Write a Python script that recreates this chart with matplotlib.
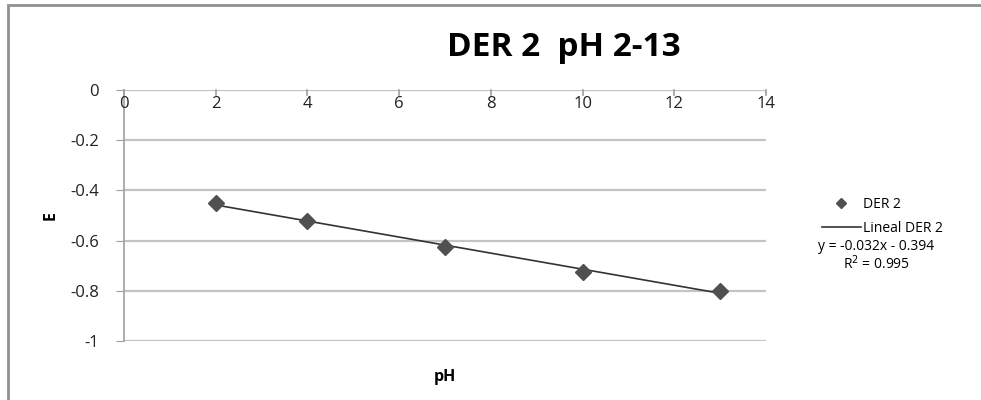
import matplotlib.pyplot as plt
from matplotlib.patches import Rectangle
import numpy as np

plt.rcParams['font.family'] = ['Open Sans', 'DejaVu Sans']

# measurements
ph = [2, 4, 7, 10, 13]
e_values = [-0.45, -0.522, -0.625, -0.725, -0.80]

# fitted trendline (as reported)
slope = -0.032
intercept = -0.394
r2 = 0.995

x_ticks = [0, 2, 4, 6, 8, 10, 12, 14]
y_ticks = [0, -0.2, -0.4, -0.6, -0.8, -1]

fig = plt.figure(figsize=(9.81, 4), dpi=100)
ax = fig.add_axes([0.1264, 0.1475, 0.6546, 0.6275])

grid_col = '#c4c4c4'
for y in y_ticks:
    ax.axhline(y, color=grid_col, lw=1.6, zorder=1)

xfit = np.array([ph[0], ph[-1]])
ax.plot(xfit, slope * xfit + intercept, color='#333333', lw=1.2, zorder=2,
        label='Lineal DER 2')
ax.plot(ph, e_values, linestyle='none', marker='D', ms=8, color='#505050',
        zorder=3, label='DER 2')

ax.set_xlim(0, 14)
ax.set_ylim(-1, 0)
ax.set_yticks(y_ticks)
ax.set_yticklabels(['0', '-0.2', '-0.4', '-0.6', '-0.8', '-1'])
ax.set_xticks([])

for s in ['top', 'right', 'bottom']:
    ax.spines[s].set_visible(False)
ax.spines['left'].set_color('#a0a0a0')
ax.spines['left'].set_linewidth(1.2)

ax.tick_params(axis='y', direction='out', length=6, color='#a0a0a0',
               labelsize=12, pad=12, labelcolor='#222222')

# x axis sits on the zero line: tick marks hang below it, labels underneath
for x in x_ticks:
    ax.plot([x, x], [0, -0.02], color='#a0a0a0', lw=1.2, zorder=1,
            clip_on=False)
    ax.text(x, -0.025, str(x), ha='center', va='top', fontsize=12,
            color='#222222')

ax.set_xlabel('pH', fontsize=11.5, fontweight='bold', labelpad=20)
ax.set_ylabel('E', fontsize=11.5, fontweight='bold', labelpad=8)

fig.text(0.575, 0.88, 'DER 2  pH 2-13', ha='center', va='center',
         fontsize=24, fontweight='bold')

handles, labels = ax.get_legend_handles_labels()
leg = fig.legend(handles[::-1], labels[::-1], loc='upper left',
                 bbox_to_anchor=(0.825, 0.54), frameon=False, fontsize=10,
                 handlelength=2.8, handletextpad=0.2, labelspacing=0.7,
                 markerscale=0.65)
fig.text(0.893, 0.385, 'y = -0.032x - 0.394', ha='center', va='center',
         fontsize=10)
fig.text(0.893, 0.342, 'R$^2$ = 0.995', ha='center', va='center',
         fontsize=10)

# outer chart frame
fig.patches.append(Rectangle((0.008, -0.1), 1.2, 1.087, transform=fig.transFigure,
                             fill=False, edgecolor='#909090', lw=2))

fig.savefig('out.png', dpi=100)
